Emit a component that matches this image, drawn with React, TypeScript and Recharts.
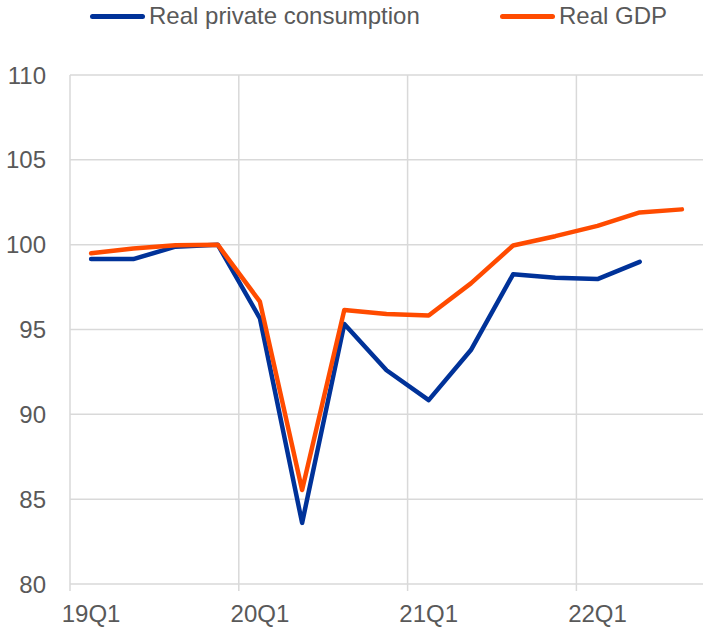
import React from 'react';
import { LineChart, Line, XAxis, YAxis, CartesianGrid, ReferenceLine } from 'recharts';

const quarters = [
  '19Q1', '19Q2', '19Q3', '19Q4',
  '20Q1', '20Q2', '20Q3', '20Q4',
  '21Q1', '21Q2', '21Q3', '21Q4',
  '22Q1', '22Q2', '22Q3',
];

const consumption = [
  99.15, 99.15, 99.88, 100.0,
  95.66, 83.6, 95.32, 92.6,
  90.84, 93.79, 98.25, 98.05,
  97.97, 98.99, null,
];

const gdp = [
  99.49, 99.78, 99.97, 100.0,
  96.64, 85.54, 96.15, 95.91,
  95.83, 97.72, 99.95, 100.5,
  101.11, 101.9, 102.08,
];

const yTicks = [80, 85, 90, 95, 100, 105, 110];
const yearStarts = ['19Q1', '20Q1', '21Q1', '22Q1'];

const seriesNames = { consumption: 'Real private consumption', gdp: 'Real GDP' };

const BLUE = '#003299';
const ORANGE = '#ff4b00';
const GRID = '#d9d9d9';
const TEXT = '#595959';
const FONT = '"Liberation Sans", Arial, sans-serif';

const data = quarters.map((q, i) => ({
  quarter: q,
  consumption: consumption[i],
  gdp: gdp[i],
}));

const XTick = (props: any) => {
  const { x, y, payload } = props;
  const edge = x - (payload.offset || 0);
  return (
    <g>
      <line x1={edge} x2={edge} y1={y - 21} y2={y - 14} stroke={GRID} strokeWidth={1.5} />
      <text x={x} y={y} dy="0.71em" textAnchor="middle" fill={TEXT} fontSize={24} fontFamily={FONT}>
        {payload.value}
      </text>
    </g>
  );
};

const LegendItem = ({ color, label, left }: { color: string; label: string; left: number }) => (
  <div style={{ position: 'absolute', left, top: 2, display: 'flex', alignItems: 'center', height: 28 }}>
    <div style={{ width: 55, height: 5, borderRadius: 3, background: color, marginRight: 4 }} />
    <span style={{ fontSize: 24, color: TEXT, fontFamily: FONT, lineHeight: '28px' }}>{label}</span>
  </div>
);

const App: React.FC = () => {
  return (
    <div style={{ position: 'fixed', left: 0, top: 0, width: 704, height: 628, background: '#fff' }}>
      <LegendItem color={BLUE} label={seriesNames.consumption} left={90} />
      <LegendItem color={ORANGE} label={seriesNames.gdp} left={500} />
      <LineChart
        width={704}
        height={628}
        data={data}
        margin={{ top: 75, right: 1, bottom: 0, left: 0 }}
      >
        <CartesianGrid vertical={false} stroke={GRID} strokeWidth={1.5} />
        {yearStarts.map((q) => (
          <ReferenceLine key={q} x={q} position="start" stroke={GRID} strokeWidth={1.5} />
        ))}
        <XAxis
          dataKey="quarter"
          scale="band"
          interval={3}
          height={44}
          axisLine={false}
          tickLine={false}
          tickSize={6}
          tickMargin={15}
          tick={<XTick />}
        />
        <YAxis
          domain={[80, 110]}
          ticks={yTicks}
          width={70}
          axisLine={false}
          tickLine={false}
          tickSize={6}
          tickMargin={18}
          tick={{ fill: TEXT, fontSize: 24, fontFamily: FONT }}
        />
        <Line
          type="linear"
          dataKey="consumption"
          stroke={BLUE}
          strokeWidth={4.5}
          strokeLinejoin="round"
          strokeLinecap="round"
          dot={false}
          isAnimationActive={false}
        />
        <Line
          type="linear"
          dataKey="gdp"
          stroke={ORANGE}
          strokeWidth={4.5}
          strokeLinejoin="round"
          strokeLinecap="round"
          dot={false}
          isAnimationActive={false}
        />
      </LineChart>
    </div>
  );
};

export default App;
